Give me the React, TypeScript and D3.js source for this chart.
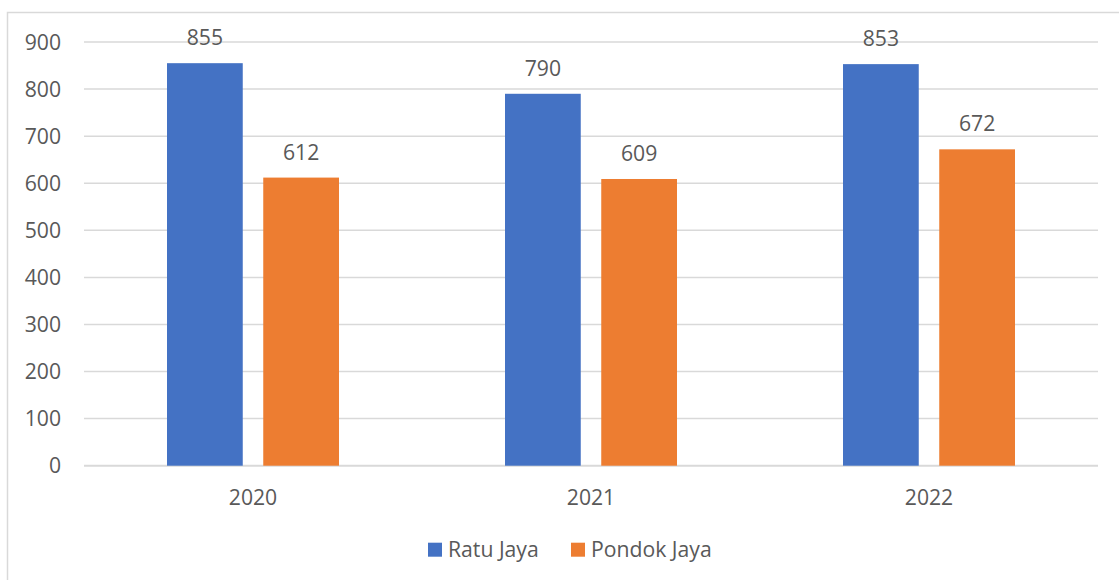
import React from "react";
import * as d3 from "d3";

const categories = ["2020", "2021", "2022"];
const seriesNames = ["Ratu Jaya", "Pondok Jaya"];
const ratuJaya = [855, 790, 853];
const pondokJaya = [612, 609, 672];
const yTicks = [0, 100, 200, 300, 400, 500, 600, 700, 800, 900];
const colors = ["#4472C4", "#ED7D31"];

const W = 1119;
const H = 580;
const FONT = "'Open Sans', 'Noto Sans', sans-serif";
const TEXT = "#595959";
const GRID = "#d9d9d9";
const FS = 21.2;

export default function App() {
  const values = [ratuJaya, pondokJaya];
  const x0 = d3.scaleBand<string>().domain(categories).range([84, 1098]).paddingInner(0).paddingOuter(0);
  const y = d3.scaleLinear().domain([0, 900]).range([465.7, 42]);
  const groupW = 172;
  const x1 = d3.scaleBand<string>().domain(seriesNames).range([0, groupW]).paddingInner(0.213).paddingOuter(0);

  return (
    <svg width={W} height={H} style={{ position: "absolute", left: 0, top: 0, background: "#fff" }} fontFamily={FONT}>
      <rect x={0} y={0} width={W} height={H} fill="#fff" />
      {/* chart border */}
      <path d={`M7.5,${H + 5} V12.5 H${W + 5}`} fill="none" stroke={GRID} strokeWidth={1.5} />
      {/* gridlines */}
      {yTicks.map((t) => (
        <line key={t} x1={84} x2={1098} y1={y(t)} y2={y(t)} stroke={GRID} strokeWidth={t === 0 ? 2 : 1.5} />
      ))}
      {/* y tick labels */}
      {yTicks.map((t) => (
        <text key={"l" + t} x={61} y={y(t)} dy="0.36em" textAnchor="end" fontSize={FS} fill={TEXT}>
          {t}
        </text>
      ))}
      {/* bars */}
      {categories.map((c, i) => {
        const cx = (x0(c) as number) + x0.bandwidth() / 2;
        const gx = cx - groupW / 2;
        return (
          <g key={c}>
            {seriesNames.map((s, j) => {
              const v = values[j][i];
              const bx = gx + (x1(s) as number);
              return (
                <g key={s}>
                  <rect x={bx} y={y(v)} width={x1.bandwidth()} height={y(0) - y(v)} fill={colors[j]} />
                  <text x={bx + x1.bandwidth() / 2} y={y(v) - 18} textAnchor="middle" fontSize={FS} fill={TEXT}>
                    {v}
                  </text>
                </g>
              );
            })}
            <text x={cx} y={497} dy="0.36em" textAnchor="middle" fontSize={FS} fill={TEXT}>
              {c}
            </text>
          </g>
        );
      })}
      {/* legend */}
      {seriesNames.map((s, j) => {
        const lx = j === 0 ? 428 : 571;
        return (
          <g key={"lg" + s}>
            <rect x={lx} y={542.7} width={14} height={14} fill={colors[j]} />
            <text x={lx + 20} y={549.7} dy="0.36em" fontSize={FS} fill={TEXT}>
              {s}
            </text>
          </g>
        );
      })}
    </svg>
  );
}
